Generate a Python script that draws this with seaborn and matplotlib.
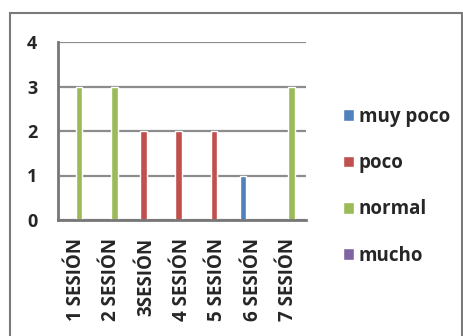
import pandas as pd
import numpy as np
import matplotlib.pyplot as plt
import seaborn as sns
from matplotlib.patches import Rectangle

sesiones = ['1 SESIÓN', '2 SESIÓN', '3SESIÓN', '4 SESIÓN', '5 SESIÓN', '6 SESIÓN', '7 SESIÓN']
niveles = ['muy poco', 'poco', 'normal', 'mucho']
muy_poco = [0, 0, 0, 0, 0, 1, 0]
poco = [0, 0, 2, 2, 2, 0, 0]
normal = [3, 3, 0, 0, 0, 0, 3]
mucho = [0, 0, 0, 0, 0, 0, 0]
colores = ['#4F81BD', '#C0504D', '#9BBB59', '#8064A2']

rows = []
for nivel, vals in zip(niveles, [muy_poco, poco, normal, mucho]):
    for s, v in zip(sesiones, vals):
        rows.append({'Sesion': s, 'Nivel': nivel, 'Valor': v})
df = pd.DataFrame(rows)

sns.set_style('white')
plt.rcParams['font.family'] = ['Open Sans', 'DejaVu Sans']

fig = plt.figure(figsize=(4.64, 3.36), dpi=100)
ax = fig.add_axes([58/464, 1 - 220/336, (306-58)/464, (220-42)/336])

sns.barplot(data=df, x='Sesion', y='Valor', hue='Nivel', hue_order=niveles,
            palette=colores, width=0.74, ax=ax, saturation=1, legend=True)

ax.set_ylim(0, 4)
ax.set_xlim(-0.5, 6.5)
ax.set_yticks(range(5))
ax.yaxis.grid(True, color='#8C8C8C', linewidth=1.6)
ax.set_axisbelow(True)
for side in ['top', 'right']:
    ax.spines[side].set_visible(False)
ax.spines['left'].set_color('#777777')
ax.spines['left'].set_linewidth(2)
ax.spines['bottom'].set_color('#777777')
ax.spines['bottom'].set_linewidth(2)
ax.set_xlabel('')
ax.set_ylabel('')

ax.set_xticks(np.arange(-0.5, 7, 1), minor=True)
ax.tick_params(axis='x', which='major', length=0, pad=13)
ax.tick_params(axis='x', which='minor', length=4, width=1.2, color='#777777', direction='out')
ax.tick_params(axis='y', length=6, width=1.2, color='#777777', direction='out', pad=9)
for lab in ax.get_yticklabels():
    lab.set_fontweight('bold')
    lab.set_fontsize(13)
ax.set_xticks(range(len(sesiones)))
ax.set_xticklabels(sesiones, rotation=90, fontsize=13.5, fontweight='bold', va='top')

# legend on the right, squares with big spacing like the Excel original
leg = ax.legend(loc='upper left', bbox_to_anchor=(326/464, 1 - 90/336),
                bbox_transform=fig.transFigure, frameon=False,
                handlelength=0.6, handleheight=0.6, handletextpad=0.25,
                labelspacing=1.4, prop={'weight': 'bold', 'size': 13.5})

fig.patches.append(Rectangle((10/464, -0.1), (462-10)/464, 1 - 13/336 + 0.1,
                             transform=fig.transFigure, fill=False,
                             edgecolor='#7A7A7A', linewidth=1.5))

fig.savefig('out.png', dpi=100)
